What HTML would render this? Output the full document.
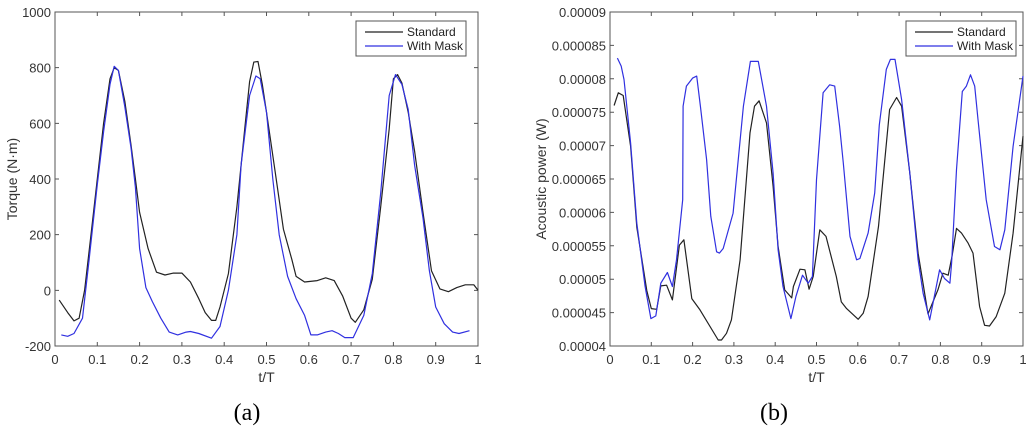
<!DOCTYPE html>
<html><head><meta charset="utf-8">
<style>
html,body{margin:0;padding:0;background:#fff;width:1032px;height:440px;overflow:hidden;font-family:"Liberation Sans",sans-serif;}
svg{display:block}
</style></head>
<body>
<svg id="root" width="1032" height="440" xmlns="http://www.w3.org/2000/svg">
<text x="247" y="420" font-family="Liberation Serif,serif" font-size="24" text-anchor="middle" fill="#000">(a)</text>
<text x="774" y="420" font-family="Liberation Serif,serif" font-size="24" text-anchor="middle" fill="#000">(b)</text>
</svg>
<script>
// Chart A: torque
const aStdT=[0.01,0.03,0.045,0.057,0.07,0.085,0.10,0.115,0.13,0.14,0.15,0.165,0.18,0.19,0.20,0.22,0.24,0.26,0.28,0.30,0.32,0.34,0.355,0.37,0.38,0.39,0.41,0.43,0.45,0.46,0.47,0.48,0.49,0.50,0.52,0.54,0.56,0.57,0.59,0.62,0.64,0.66,0.68,0.70,0.71,0.73,0.75,0.77,0.79,0.80,0.81,0.82,0.835,0.85,0.87,0.89,0.91,0.93,0.95,0.97,0.99,1.0];
const aStdV=[-35,-80,-110,-100,0,200,400,600,760,800,790,680,520,400,280,150,65,55,62,62,30,-30,-80,-108,-108,-60,60,300,600,750,820,822,740,640,430,220,110,50,30,35,45,35,-20,-100,-115,-70,40,300,580,760,775,745,640,500,280,70,5,-5,10,20,20,0];
const aMaskT=[0.015,0.03,0.045,0.065,0.08,0.10,0.115,0.13,0.14,0.15,0.165,0.18,0.19,0.20,0.215,0.23,0.25,0.27,0.29,0.31,0.32,0.34,0.37,0.39,0.41,0.43,0.44,0.46,0.475,0.485,0.50,0.515,0.53,0.55,0.57,0.59,0.605,0.62,0.64,0.655,0.67,0.685,0.705,0.73,0.75,0.77,0.79,0.805,0.82,0.835,0.85,0.87,0.885,0.90,0.92,0.94,0.955,0.98];
const aMaskV=[-160,-165,-155,-100,100,380,570,740,805,790,660,510,370,150,10,-40,-100,-150,-160,-150,-148,-155,-172,-130,0,200,450,700,770,760,640,400,200,50,-30,-90,-160,-160,-150,-145,-155,-170,-170,-90,60,350,700,775,740,650,450,260,70,-60,-120,-150,-155,-145];
const aYTicks=[-200,0,200,400,600,800,1000];
const xTicks=[0,0.1,0.2,0.3,0.4,0.5,0.6,0.7,0.8,0.9,1];
const xTickLabels=["0","0.1","0.2","0.3","0.4","0.5","0.6","0.7","0.8","0.9","1"];
// Chart B: acoustic power (values in 1e-6 W)
const bStdT=[0.01,0.02,0.032,0.05,0.065,0.089,0.10,0.113,0.123,0.137,0.151,0.168,0.179,0.198,0.218,0.262,0.27,0.282,0.294,0.315,0.339,0.35,0.361,0.379,0.395,0.407,0.423,0.44,0.444,0.46,0.472,0.482,0.492,0.508,0.523,0.548,0.56,0.573,0.601,0.613,0.625,0.65,0.677,0.694,0.706,0.726,0.746,0.77,0.794,0.806,0.819,0.828,0.839,0.851,0.867,0.879,0.895,0.907,0.919,0.935,0.956,0.976,1];
const bStdV=[76,77.9,77.5,69.9,57.8,48.3,45.6,45.5,49,49.1,46.9,55.1,55.9,47.1,45.4,40.9,40.9,41.9,43.9,52.9,71.9,75.9,76.7,73.4,63.9,54.9,48.4,47.2,48.9,51.5,51.4,48.5,50.4,57.4,56.4,50.4,46.6,45.6,44,44.9,47.4,57.9,75.4,77.2,75.9,65.9,53.9,44.8,48.4,50.9,50.6,53.4,57.6,56.9,55.4,53.9,45.9,43.1,43,44.4,47.9,56.9,71.4];
const bMaskT=[0.018,0.027,0.034,0.05,0.065,0.085,0.099,0.111,0.123,0.139,0.151,0.161,0.176,0.177,0.185,0.2,0.21,0.219,0.234,0.244,0.258,0.265,0.274,0.298,0.323,0.34,0.359,0.379,0.395,0.407,0.419,0.438,0.45,0.466,0.48,0.49,0.5,0.516,0.532,0.544,0.556,0.565,0.581,0.597,0.605,0.625,0.641,0.652,0.669,0.679,0.69,0.706,0.726,0.746,0.758,0.774,0.798,0.81,0.823,0.827,0.839,0.853,0.863,0.873,0.883,0.891,0.911,0.931,0.944,0.956,0.976,1];
const bMaskV=[83.1,81.9,79.9,70.4,58.4,48.9,44.1,44.5,49.4,51,48.9,52.9,61.9,75.9,78.9,80.1,80.4,75.9,67.9,59.4,54.1,53.9,54.6,59.9,75.9,82.6,82.6,75.9,65.9,54.4,48.9,44.1,47.4,50.6,49.4,50.4,64.9,77.9,79.1,78.9,72.9,67.4,56.4,52.9,53.1,56.9,62.9,73.1,81.4,82.9,82.9,76.9,65.9,52.9,47.9,43.9,51.4,50.1,49.4,52.4,66.4,78.1,78.9,80.6,78.9,73.9,61.9,54.9,54.4,57.4,69.9,80.4];
const bYTicks=[40,45,50,55,60,65,70,75,80,85,90];
const bYTickLabels=["0.00004","0.000045","0.00005","0.000055","0.00006","0.000065","0.00007","0.000075","0.00008","0.000085","0.00009"];

const NS="http://www.w3.org/2000/svg";
const root=document.getElementById('root');
function mk(tag,attrs,parent){const e=document.createElementNS(NS,tag);for(const k in attrs)e.setAttribute(k,attrs[k]);(parent||root).appendChild(e);return e;}

function chart(cfg){
  const g=mk('g',{});
  
  
  const L=cfg.L,R=cfg.R,T=12,B=346;
  const sx=t=>L+(t-0)*(R-L);
  const sy=v=>B-(v-cfg.ymin)/(cfg.ymax-cfg.ymin)*(B-T);
  // ticks
  xTicks.forEach((t,i)=>{
    const x=sx(t);
    const tk=mk('path',{d:`M${x},${B}v-4M${x},${T}v4`,stroke:'#555','stroke-width':1,fill:'none'},g);
    
    
    const tl=mk('text',{x:x,y:B+18,'font-size':13,'text-anchor':'middle',fill:'#333'},g);
    tl.textContent=xTickLabels[i];
    
    
  });
  cfg.yt.forEach((v,i)=>{
    const y=sy(v);
    const tk=mk('path',{d:`M${L},${y}h4M${R},${y}h-4`,stroke:'#555','stroke-width':1,fill:'none'},g);
    
    
    const tl=mk('text',{x:L-4,y:y+5,'font-size':13,'text-anchor':'end',fill:'#333'},g);
    tl.textContent=cfg.ytl[i];
    
    
  });
  const box=mk('rect',{x:L,y:T,width:R-L,height:B-T,fill:'none',stroke:'#555','stroke-width':1},g);
  
  
  const xt=mk('text',{x:(L+R)/2,y:382,'font-size':14,'text-anchor':'middle',fill:'#333'},g);
  xt.textContent='t/T';
  
  
  const yt=mk('text',{x:0,y:0,'font-size':14,'text-anchor':'middle',fill:'#333',transform:`translate(${cfg.ytx},${(T+B)/2}) rotate(-90)`},g);
  yt.textContent=cfg.ytitle;
  
  
  cfg.series.forEach(s=>{
    const d=s.t.map((t,i)=>(i?'L':'M')+sx(t).toFixed(1)+','+sy(s.v[i]).toFixed(1)).join('');
    const p=mk('path',{d:d,stroke:s.c,'stroke-width':1.2,fill:'none','stroke-linejoin':'round'},g);
    
    
  });
  const lg=mk('g',{},g);
  
  
  mk('rect',{x:cfg.lx,y:21,width:110,height:35,fill:'#fff',stroke:'#555','stroke-width':1},lg);
  [['Standard','#222'],['With Mask','#3030e0']].forEach((e,i)=>{
    const y=32+i*14;
    const ln=mk('line',{x1:cfg.lx+9,x2:cfg.lx+47,y1:y,y2:y,stroke:e[1],'stroke-width':1.2},lg);
    
    
    const tx=mk('text',{x:cfg.lx+51,y:y+4,'font-size':12,fill:'#222'},lg);
    tx.textContent=e[0];
    
    
  });
}
chart({name:'torque-chart',L:55,R:478,ymin:-200,ymax:1000,yt:aYTicks,ytl:aYTicks.map(String),ytitle:'Torque (N·m)',ytx:17,lx:356,
  series:[{t:aStdT,v:aStdV,c:'#222',n:'standard-line'},{t:aMaskT,v:aMaskV,c:'#3030e0',n:'with-mask-line'}]});
chart({name:'acoustic-power-chart',L:610,R:1023,ymin:40,ymax:90,yt:bYTicks,ytl:bYTickLabels,ytitle:'Acoustic power (W)',ytx:546,lx:906,
  series:[{t:bStdT,v:bStdV,c:'#222',n:'standard-line'},{t:bMaskT,v:bMaskV,c:'#3030e0',n:'with-mask-line'}]});
</script>
</body></html>
